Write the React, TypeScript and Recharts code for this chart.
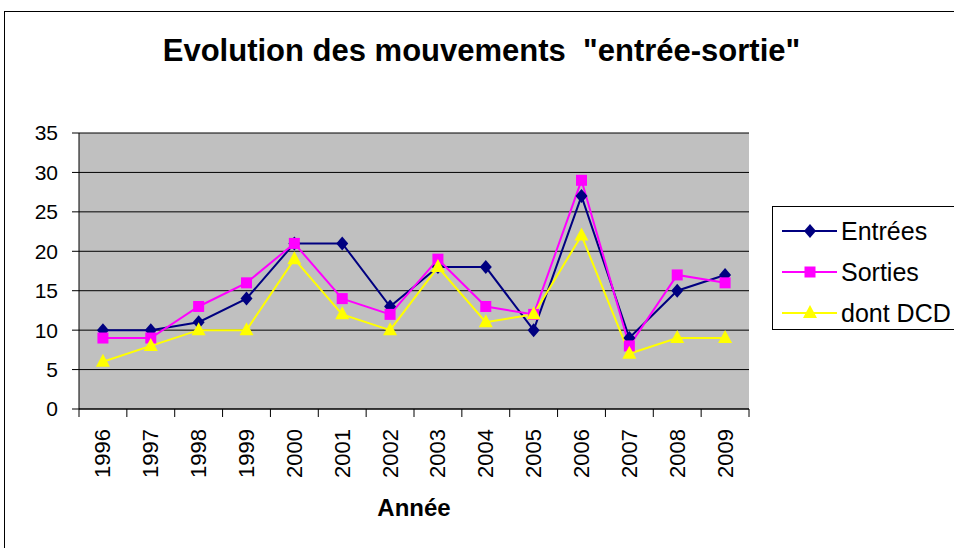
// Evolution des mouvements "entrée-sortie" - line chart, Excel style
import { LineChart, Line, XAxis, YAxis, CartesianGrid } from 'recharts';

const years = ['1996', '1997', '1998', '1999', '2000', '2001', '2002', '2003', '2004', '2005', '2006', '2007', '2008', '2009'];
const entrees = [10, 10, 11, 14, 21, 21, 13, 18, 18, 10, 27, 9, 15, 17];
const sorties = [9, 9, 13, 16, 21, 14, 12, 19, 13, 12, 29, 8, 17, 16];
const dontDcd = [6, 8, 10, 10, 19, 12, 10, 18, 11, 12, 22, 7, 9, 9];
const yTicks = [0, 5, 10, 15, 20, 25, 30, 35];

const FONT = '"Liberation Sans", Arial, sans-serif';
const W = 954;
const H = 548;
const PLOT_LEFT = 79;
const PLOT_RIGHT = 749;
const PLOT_TOP = 133;
const PLOT_BOTTOM = 409;
const BAND = (PLOT_RIGHT - PLOT_LEFT) / years.length;

const data = years.map((year, i) => ({
  year,
  entrees: entrees[i],
  sorties: sorties[i],
  dcd: dontDcd[i],
}));

const NAVY = '#000080';
const MAGENTA = '#FF00FF';
const YELLOW = '#FFFF00';

function Diamond({ cx, cy, color = NAVY }: any) {
  if (cx == null || cy == null) return null;
  return <polygon points={`${cx},${cy - 7} ${cx + 6},${cy} ${cx},${cy + 7} ${cx - 6},${cy}`} fill={color} />;
}

function Square({ cx, cy, color = MAGENTA }: any) {
  if (cx == null || cy == null) return null;
  return <rect x={cx - 5.5} y={cy - 5.5} width={11} height={11} fill={color} />;
}

function Triangle({ cx, cy, color = YELLOW }: any) {
  if (cx == null || cy == null) return null;
  return <polygon points={`${cx},${cy - 8} ${cx + 7},${cy + 5} ${cx - 7},${cy + 5}`} fill={color} />;
}

// category labels centred, tick marks between categories like Excel
function YearTick({ x, y, payload, index }: any) {
  const half = BAND / 2;
  return (
    <g>
      <line x1={x - half} y1={y} x2={x - half} y2={y + 8} stroke="#000" />
      {index === years.length - 1 && <line x1={x + half} y1={y} x2={x + half} y2={y + 8} stroke="#000" />}
      <text
        x={x}
        y={y + 20}
        transform={`rotate(-90, ${x}, ${y + 20})`}
        textAnchor="end"
        dominantBaseline="central"
        fontSize={22}
        fontFamily={FONT}
        fill="#000"
      >
        {payload.value}
      </text>
    </g>
  );
}

const legendItems = [
  { label: 'Entrées', color: NAVY, Marker: Diamond },
  { label: 'Sorties', color: MAGENTA, Marker: Square },
  { label: 'dont DCD', color: YELLOW, Marker: Triangle },
];

export default function App() {
  return (
    <div style={{ position: 'fixed', left: 0, top: 0, width: W, height: H, overflow: 'hidden', background: '#fff', fontFamily: FONT }}>
      <div style={{ position: 'absolute', left: 4, top: 11, width: 1000, height: 600, border: '1px solid #000' }} />
      <div style={{ position: 'absolute', left: 0, width: 963, top: 33, textAlign: 'center', fontSize: 31, fontWeight: 'bold', lineHeight: '36px', whiteSpace: 'pre' }}>
        {'Evolution des mouvements  "entrée-sortie"'}
      </div>
      <div style={{ position: 'absolute', left: 0, top: 0 }}>
        <LineChart width={W} height={H} data={data} margin={{ top: PLOT_TOP, right: W - PLOT_RIGHT, bottom: 0, left: 0 }}>
          <CartesianGrid vertical={false} stroke="#000" fill="#C0C0C0" fillOpacity={1} />
          <XAxis
            xAxisId="top"
            orientation="top"
            dataKey="year"
            height={0}
            tick={false}
            tickLine={false}
            axisLine={{ stroke: '#808080', strokeWidth: 2 }}
          />
          <YAxis
            yAxisId="right"
            orientation="right"
            width={0}
            domain={[0, 35]}
            tick={false}
            tickLine={false}
            axisLine={{ stroke: '#808080', strokeWidth: 2 }}
          />
          <XAxis
            dataKey="year"
            height={H - PLOT_BOTTOM}
            padding={{ left: BAND / 2, right: BAND / 2 }}
            tickLine={false}
            tickSize={0}
            tickMargin={0}
            axisLine={{ stroke: '#000' }}
            tick={<YearTick />}
            interval={0}
            label={{ value: 'Année', position: 'insideTop', offset: 90, fontSize: 24, fontWeight: 'bold', fill: '#000', fontFamily: FONT }}
          />
          <YAxis
            width={PLOT_LEFT}
            domain={[0, 35]}
            ticks={yTicks}
            tickSize={7}
            tickMargin={14}
            axisLine={{ stroke: '#000' }}
            tickLine={{ stroke: '#000' }}
            tick={{ fill: '#000', fontSize: 21, fontFamily: FONT }}
          />
          <Line dataKey="entrees" stroke={NAVY} strokeWidth={2} dot={<Diamond />} activeDot={false} isAnimationActive={false} />
          <Line dataKey="sorties" stroke={MAGENTA} strokeWidth={2} dot={<Square />} activeDot={false} isAnimationActive={false} />
          <Line dataKey="dcd" stroke={YELLOW} strokeWidth={2} dot={<Triangle />} activeDot={false} isAnimationActive={false} />
        </LineChart>
      </div>
      <div style={{ position: 'absolute', left: 772, top: 206, width: 200, height: 122, border: '1px solid #000', background: '#fff' }}>
        {legendItems.map(({ label, color, Marker }, i) => (
          <div key={label} style={{ position: 'absolute', left: 0, top: 6 + i * 41, height: 36, display: 'flex', alignItems: 'center' }}>
            <svg width={68} height={36}>
              <line x1={9} y1={18} x2={64} y2={18} stroke={color} strokeWidth={2} />
              <Marker cx={37} cy={18} color={color} />
            </svg>
            <span style={{ fontSize: 25, color: '#000', whiteSpace: 'nowrap' }}>{label}</span>
          </div>
        ))}
      </div>
    </div>
  );
}
